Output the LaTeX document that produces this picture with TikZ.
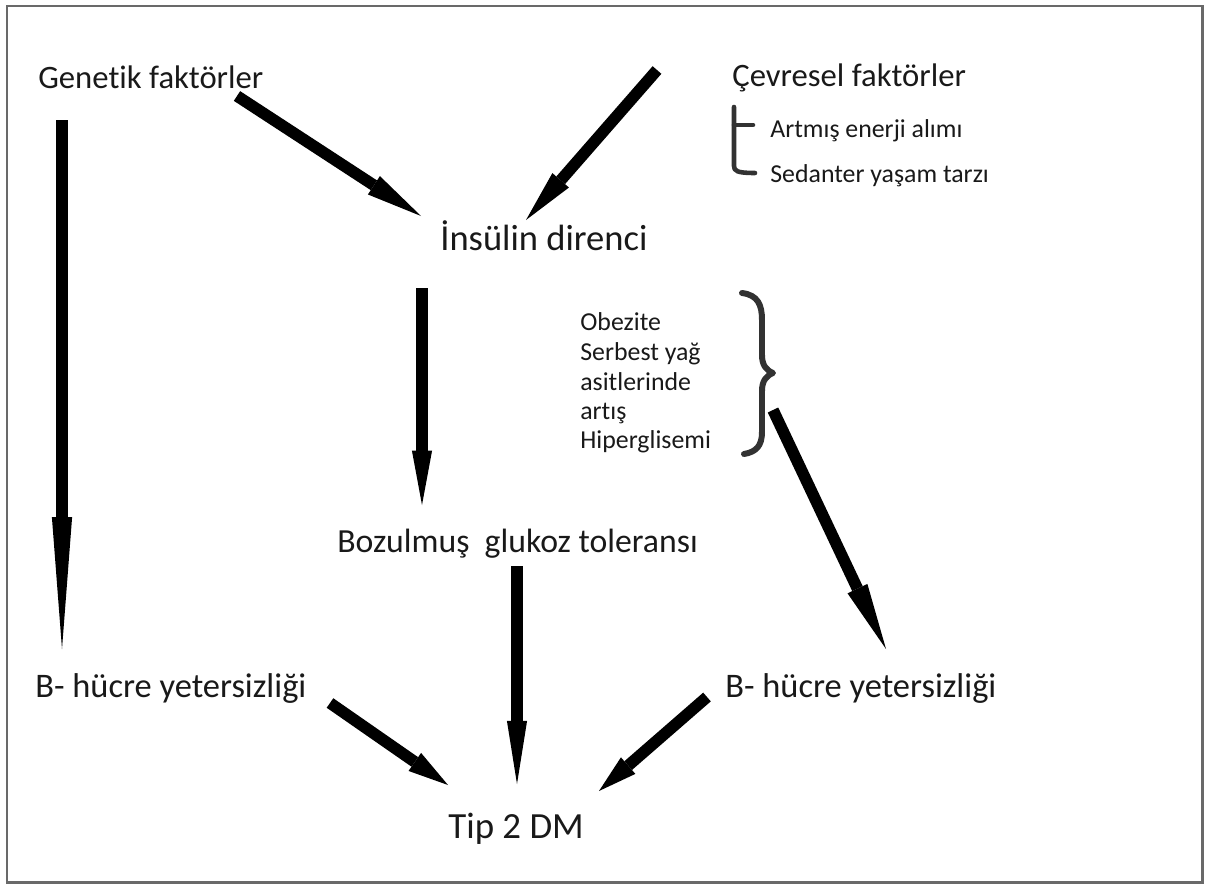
\documentclass[tikz,border=0pt]{standalone}
\usepackage{fontspec}
\setmainfont{Carlito}[Ligatures={NoCommon,NoRare,NoContextual}]
\usetikzlibrary{arrows.meta}
\definecolor{framegray}{RGB}{105,105,105}
\definecolor{bracegray}{RGB}{50,50,50}
\definecolor{txt}{RGB}{25,25,25}
\begin{document}
\begin{tikzpicture}[x=0.02cm,y=-0.02cm,
  big/.style={anchor=base west,inner sep=0pt,text=txt,font=\fontsize{18.6}{22}\selectfont},
  sml/.style={anchor=base west,inner sep=0pt,text=txt,font=\fontsize{14.7}{17}\selectfont},
  fatarrow/.style 2 args={line width=6.6pt,-{Triangle[length=#1,width=#2,line width=0pt]}},
  bracket/.style={line width=2.4pt,color=bracegray,line cap=round,line join=round}]
\useasboundingbox (0,0) rectangle (1215,886);
\draw[framegray,line width=1.7pt] (7,6) rectangle (1202,882);

% text nodes
\node[big] (gen) at (38,88) {Genetik faktörler};
\node[big] (cev) at (732,86) {Çevresel faktörler};
\node[sml] (art) at (770,137) {Artmış enerji\ alımı};
\node[sml] (sed) at (770,182) {Sedanter yaşam tarzı};
\node[big,font=\fontsize{20.8}{24}\selectfont] (ins) at (440,250) {İnsülin direnci};
\node[sml] (obe) at (580,330) {Obezite};
\node[sml] (ser) at (580,360) {Serbest yağ};
\node[sml] (asi) at (580,390) {asitlerinde};
\node[sml] (ars) at (580,419) {artış};
\node[sml] (hip) at (580,448) {Hiperglisemi};
\node[big,font=\fontsize{19.2}{22}\selectfont] (boz) at (337,552) {Bozulmuş\ \ glukoz toleransı};
\node[big,font=\fontsize{19.6}{22}\selectfont] (bl) at (35,697) {B- hücre yetersizliği};
\node[big,font=\fontsize{19.6}{22}\selectfont] (br) at (725,697) {B- hücre yetersizliği};
\node[big,font=\fontsize{21}{24}\selectfont] (tip) at (448,838) {Tip 2 DM};

% bracket under Cevresel faktorler
\draw[bracket,line width=2.6pt] (734,107) -- (734,166) .. controls (734,171) and (737,173) .. (755,173);
\draw[bracket,line width=2.6pt] (734,125) -- (753,125);

% curly brace
\draw[bracket,line width=3.4pt] (742,293) .. controls (758,295) and (762,305) .. (762,320)
  -- (762,355) .. controls (762,365) and (766,370) .. (773,373)
  .. controls (766,376) and (762,381) .. (762,391)
  -- (762,432) .. controls (762,446) and (756,452) .. (744,454);

% arrow endpoints
\coordinate (a1s) at (62,120);  \coordinate (a1e) at (62,649);
\coordinate (a2s) at (237,96);  \coordinate (a2e) at (421,216);
\coordinate (a3s) at (657,70);  \coordinate (a3e) at (526,220);
\coordinate (a4s) at (422,288); \coordinate (a4e) at (422,505);
\coordinate (a5s) at (517,566); \coordinate (a5e) at (517,784);
\coordinate (a6s) at (773,410); \coordinate (a6e) at (886,649);
\coordinate (a7s) at (330,703); \coordinate (a7e) at (448,785);
\coordinate (a8s) at (707,697); \coordinate (a8e) at (599,791);

\draw[fatarrow={75pt}{11.5pt}] (a1s) -- (a1e);
\draw[fatarrow={32pt}{12.5pt}] (a2s) -- (a2e);
\draw[fatarrow={30pt}{12.5pt}] (a3s) -- (a3e);
\draw[fatarrow={31pt}{11.5pt}] (a4s) -- (a4e);
\draw[fatarrow={36pt}{11.5pt}] (a5s) -- (a5e);
\draw[fatarrow={38pt}{12.5pt}] (a6s) -- (a6e);
\draw[fatarrow={23pt}{12.5pt}] (a7s) -- (a7e);
\draw[fatarrow={22pt}{12.5pt}] (a8s) -- (a8e);
\end{tikzpicture}
\end{document}
